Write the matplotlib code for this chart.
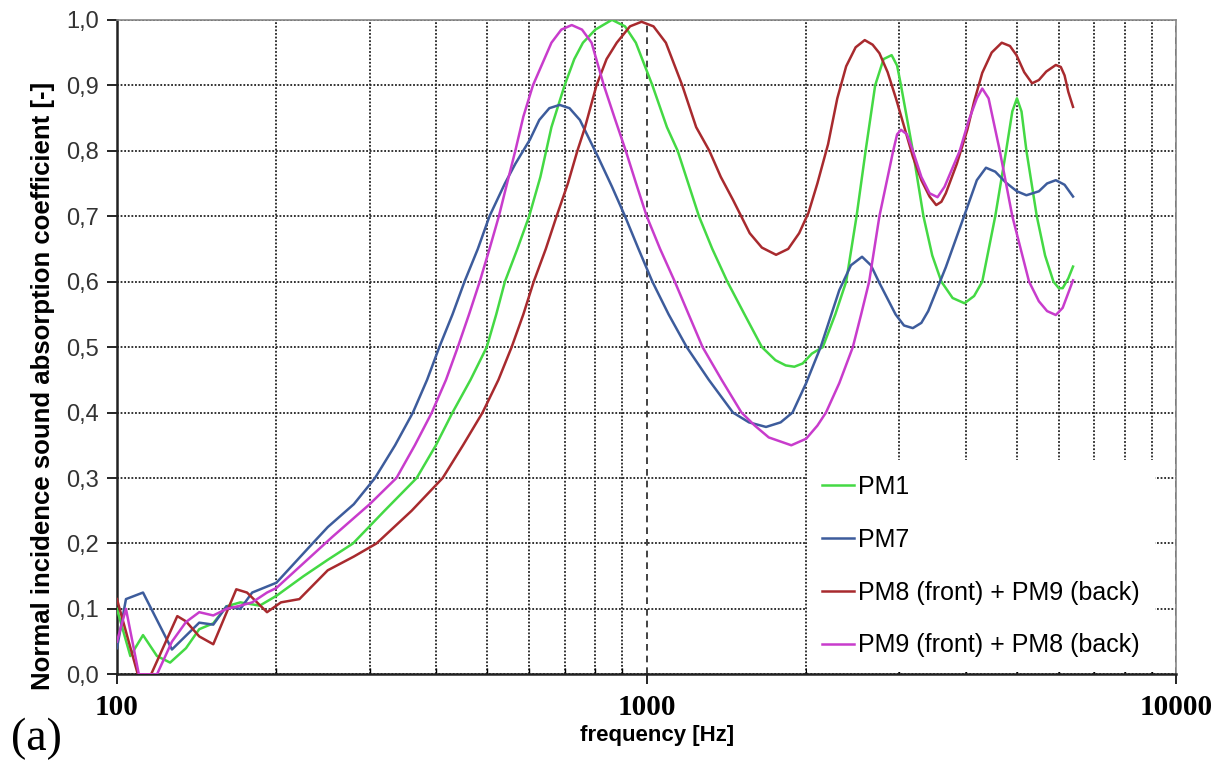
import matplotlib
matplotlib.use("Agg")
import matplotlib.pyplot as plt
from matplotlib.ticker import FixedLocator, FuncFormatter, LogLocator, NullFormatter

# values (frequency in Hz, absorption coefficient)
pm1_freq = [100, 106, 112, 119, 126, 135, 143, 152, 161, 171, 186, 200, 225, 250, 279, 320,
            368, 400, 430, 465, 499, 520, 540, 570, 600, 630, 661, 700, 730, 758, 800, 860,
            910, 954, 1025, 1092, 1144, 1255, 1330, 1420, 1530, 1650, 1750, 1830, 1900, 1970,
            2050, 2150, 2270, 2380, 2490, 2590, 2700, 2800, 2900, 2970, 3020, 3180, 3330,
            3460, 3600, 3780, 3980, 4150, 4300, 4550, 4770, 4900, 5000, 5100, 5210, 5450,
            5650, 5860, 6000, 6100, 6250, 6380]
pm1_alpha = [0.10, 0.028, 0.06, 0.028, 0.018, 0.04, 0.069, 0.078, 0.104, 0.11, 0.105, 0.12,
             0.15, 0.175, 0.20, 0.25, 0.30, 0.35, 0.40, 0.45, 0.50, 0.55, 0.60, 0.65, 0.70,
             0.76, 0.836, 0.90, 0.94, 0.965, 0.985, 1.0, 0.99, 0.965, 0.90, 0.836, 0.80,
             0.70, 0.65, 0.60, 0.55, 0.50, 0.48, 0.472, 0.47, 0.475, 0.49, 0.50, 0.55, 0.60,
             0.70, 0.80, 0.90, 0.94, 0.946, 0.93, 0.90, 0.80, 0.70, 0.64, 0.60, 0.575, 0.567,
             0.578, 0.60, 0.70, 0.80, 0.86, 0.88, 0.86, 0.80, 0.70, 0.64, 0.60, 0.59, 0.59,
             0.605, 0.623]

pm7_freq = [100, 104, 112, 127, 143, 152, 161, 171, 180, 200, 234, 250, 280, 307, 335, 362,
            385, 406, 430, 453, 480, 505, 540, 565, 602, 627, 655, 685, 715, 748, 780, 810,
            860, 910, 965, 1025, 1100, 1190, 1310, 1455, 1560, 1680, 1790, 1885, 2000, 2130,
            2310, 2430, 2550, 2650, 2750, 2950, 3060, 3180, 3300, 3400, 3670, 4030, 4200,
            4370, 4550, 4770, 5000, 5210, 5500, 5700, 5920, 6150, 6380]
pm7_alpha = [0.04, 0.115, 0.125, 0.038, 0.079, 0.076, 0.104, 0.10, 0.125, 0.14, 0.20, 0.225,
             0.26, 0.30, 0.35, 0.40, 0.45, 0.50, 0.55, 0.60, 0.65, 0.70, 0.75, 0.78, 0.817,
             0.847, 0.865, 0.87, 0.865, 0.847, 0.817, 0.79, 0.745, 0.70, 0.65, 0.60, 0.55,
             0.50, 0.45, 0.40, 0.385, 0.378, 0.385, 0.40, 0.445, 0.50, 0.587, 0.625, 0.638,
             0.625, 0.598, 0.55, 0.533, 0.529, 0.537, 0.555, 0.622, 0.714, 0.755, 0.774,
             0.768, 0.751, 0.738, 0.732, 0.738, 0.75, 0.755, 0.748, 0.73]

pm8_freq = [100, 109.5, 116, 130, 135, 143, 152, 168, 176, 192, 204, 221, 250, 280, 309, 360,
            412, 450, 490, 525, 556, 585, 612, 645, 676, 710, 740, 765, 804, 840, 878, 930,
            978, 1030, 1087, 1167, 1240, 1313, 1380, 1455, 1565, 1650, 1755, 1850, 1940, 2020,
            2100, 2200, 2290, 2380, 2480, 2580, 2670, 2750, 2850, 2960, 3180, 3300, 3420,
            3520, 3600, 3670, 3850, 4030, 4150, 4300, 4480, 4680, 4850, 4990, 5160, 5340,
            5500, 5680, 5920, 6050, 6150, 6250, 6380]
pm8_alpha = [0.115, 0.0, 0.0, 0.089, 0.081, 0.058, 0.046, 0.13, 0.125, 0.095, 0.11, 0.115,
             0.159, 0.18, 0.20, 0.25, 0.30, 0.35, 0.40, 0.45, 0.50, 0.55, 0.60, 0.65, 0.70,
             0.75, 0.80, 0.836, 0.90, 0.94, 0.965, 0.99, 0.997, 0.99, 0.965, 0.90, 0.836,
             0.80, 0.76, 0.725, 0.674, 0.652, 0.641, 0.65, 0.674, 0.705, 0.75, 0.81, 0.88,
             0.929, 0.958, 0.969, 0.962, 0.949, 0.92, 0.878, 0.791, 0.755, 0.73, 0.717,
             0.722, 0.735, 0.78, 0.832, 0.875, 0.919, 0.95, 0.965, 0.96, 0.946, 0.92, 0.903,
             0.908, 0.921, 0.931, 0.928, 0.915, 0.89, 0.867]

pm9_freq = [100, 104, 110, 119, 127, 135, 143, 152, 161, 171, 180, 192, 200, 255, 300, 337,
            365, 393, 418, 440, 462, 484, 505, 526, 545, 565, 585, 610, 661, 690, 722, 755,
            787, 830, 870, 913, 955, 1000, 1060, 1130, 1200, 1275, 1385, 1510, 1600, 1700,
            1875, 2000, 2100, 2180, 2310, 2450, 2540, 2630, 2750, 2920, 2970, 3020, 3100,
            3180, 3300, 3420, 3540, 3650, 3900, 4050, 4200, 4300, 4420, 4640, 4900, 5270,
            5500, 5700, 5920, 6100, 6380]
pm9_alpha = [0.05, 0.10, 0.0, 0.0, 0.05, 0.08, 0.095, 0.09, 0.10, 0.105, 0.11, 0.125, 0.132,
             0.21, 0.26, 0.30, 0.35, 0.40, 0.45, 0.50, 0.55, 0.60, 0.65, 0.70, 0.75, 0.80,
             0.852, 0.90, 0.965, 0.985, 0.992, 0.985, 0.965, 0.90, 0.85, 0.80, 0.75, 0.70,
             0.65, 0.60, 0.55, 0.50, 0.45, 0.40, 0.38, 0.362, 0.35, 0.36, 0.38, 0.40, 0.445,
             0.50, 0.55, 0.60, 0.70, 0.80, 0.825, 0.832, 0.825, 0.80, 0.76, 0.735, 0.729,
             0.745, 0.80, 0.845, 0.88, 0.895, 0.88, 0.80, 0.70, 0.60, 0.57, 0.555, 0.549,
             0.56, 0.602]

series_labels = ["PM1", "PM7", "PM8 (front) + PM9 (back)", "PM9 (front) + PM8 (back)"]
series_colors = ["#44d944", "#3d5c9c", "#a82a2e", "#c83ccc"]

y_ticks = [0.0, 0.1, 0.2, 0.3, 0.4, 0.5, 0.6, 0.7, 0.8, 0.9, 1.0]
x_ticks = [100, 1000, 10000]

SANS = "Liberation Sans"
SERIF = "Liberation Serif"


def comma_fmt(v, pos):
    return f"{v:.1f}".replace(".", ",")


def main():
    fig = plt.figure(figsize=(12.22, 7.62), dpi=100)
    ax = fig.add_axes([0.0957, 0.115, 0.867, 0.859])

    data = [(pm1_freq, pm1_alpha), (pm7_freq, pm7_alpha),
            (pm8_freq, pm8_alpha), (pm9_freq, pm9_alpha)]
    for (f, a), lab, col in zip(data, series_labels, series_colors):
        ax.plot(f, a, color=col, lw=1.8, label=lab, zorder=3)

    ax.set_xscale("log")
    ax.set_xlim(100, 10000)
    ax.set_ylim(0, 1.0)

    ax.xaxis.set_major_locator(FixedLocator(x_ticks))
    ax.xaxis.set_minor_locator(LogLocator(base=10, subs=range(2, 10)))
    ax.xaxis.set_minor_formatter(NullFormatter())
    ax.set_xticklabels([str(t) for t in x_ticks], fontfamily=SERIF, fontweight="bold", fontsize=21)
    ax.set_yticks(y_ticks)
    ax.yaxis.set_major_formatter(FuncFormatter(comma_fmt))
    for lbl in ax.get_yticklabels():
        lbl.set_fontfamily(SANS)
        lbl.set_fontsize(17)
        lbl.set_color("#333333")

    ax.tick_params(axis="y", direction="out", length=7, width=1.2, pad=6)
    ax.tick_params(axis="x", which="major", direction="out", length=7, width=1.2, pad=7)
    ax.tick_params(axis="x", which="minor", direction="in", length=4, width=1)

    # grid: dotted, the 1000 Hz line dashed
    ax.grid(True, axis="y", which="major", color="#222222", lw=1.3, dashes=(1, 1))
    ax.grid(True, axis="x", which="minor", color="#222222", lw=1.3, dashes=(1, 1))
    ax.grid(True, axis="x", which="major", color="#222222", lw=1.2, dashes=(4, 3))
    ax.set_axisbelow(True)

    for side in ["left", "bottom"]:
        ax.spines[side].set_linewidth(1.8)
        ax.spines[side].set_color("#222222")
    for side in ["top", "right"]:
        ax.spines[side].set_linewidth(1.2)
        ax.spines[side].set_color("#888888")

    ax.set_xlabel("frequency [Hz]", fontfamily=SANS, fontweight="bold", fontsize=16)
    ax.xaxis.set_label_coords(0.510, -0.077)
    ax.set_ylabel("Normal incidence sound absorption coefficient [-]", fontfamily=SANS,
                  fontweight="bold", fontsize=18.5)
    ax.yaxis.set_label_coords(-0.058, 0.440)

    leg = ax.legend(loc="lower left", bbox_to_anchor=(0.651, 0.003), frameon=True,
                    fancybox=False, edgecolor="none", facecolor="white", framealpha=1,
                    prop={"family": SANS, "size": 18}, handlelength=1.3, handletextpad=0.15,
                    labelspacing=1.15, borderpad=0.6, borderaxespad=0)
    leg.set_zorder(5)

    fig.text(0.009, 0.016, "(a)", fontfamily=SERIF, fontsize=33)

    fig.savefig("out.png", dpi=100)
    plt.close(fig)


if __name__ == "__main__":
    main()
